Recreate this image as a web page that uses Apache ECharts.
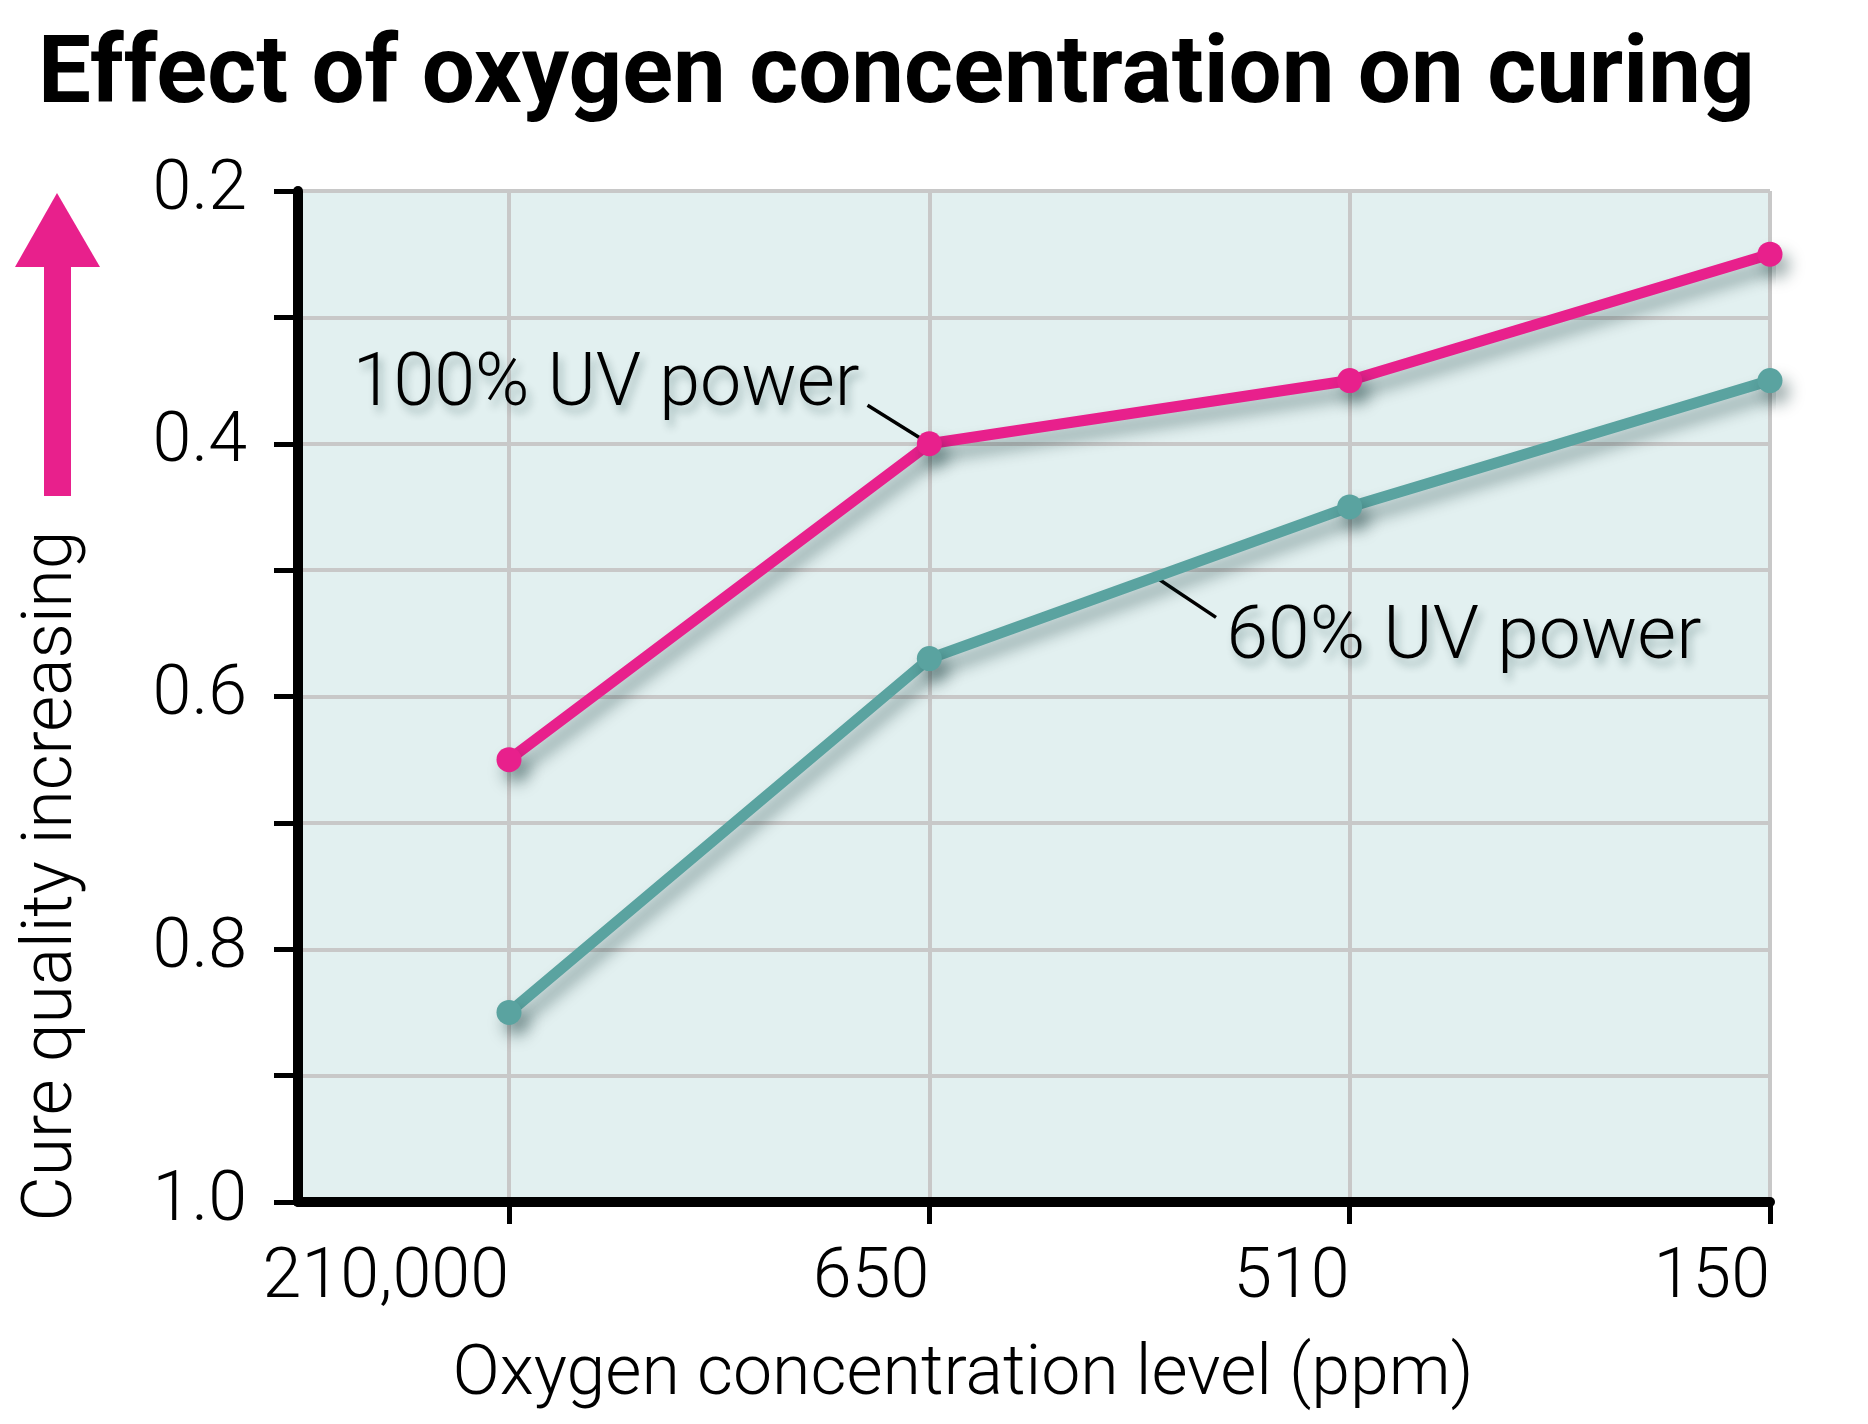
<!DOCTYPE html>
<html><head><meta charset="utf-8">
<script src="https://cdn.jsdelivr.net/npm/echarts@6/dist/echarts.min.js"></script>
<style>html,body{margin:0;padding:0;background:#fff}#c{width:1868px;height:1424px}</style>
</head><body><div id="c"></div>
<script>
// ---- data ----
const categories = ['210,000', '650', '510', '150'];
const uv100 = [0.65, 0.40, 0.35, 0.25];
const uv60 = [0.85, 0.57, 0.45, 0.35];
const yMin = 0.2, yMax = 1.0, yStep = 0.1;
const yLabelTicks = ['0.2', '0.4', '0.6', '0.8', '1.0'];
const titleText = 'Effect of oxygen concentration on curing';
const xName = 'Oxygen concentration level (ppm)';
const yName = 'Cure quality increasing';
const label100 = '100% UV power';
const label60 = '60% UV power';
// leader lines in data space [x, y]
const leader100 = [[0.853, 0.3695], [1, 0.40]];
const leader60 = [[1.539, 0.5057], [1.682, 0.5374]];

const PINK = '#e8208c', TEAL = '#5aa3a0', GRID = '#c8c8c8', BG = '#e2f0f0';
const LIGHT = 'Roboto';
const mctx = document.createElement('canvas').getContext('2d');
function fit(text, weight, family, width) {
  mctx.font = weight + ' 100px ' + family;
  return 100 * width / mctx.measureText(text).width;
}
const titleSize = fit(titleText, 'bold', 'Roboto', 1717);
const xNameSize = fit(xName, '300', LIGHT, 1021);
const yNameSize = fit(yName, '300', LIGHT, 691);
const a100Size = fit(label100, '300', LIGHT, 507);
const a60Size = fit(label60, '300', LIGHT, 475);
const tickSize = 70;

const chart = echarts.init(document.getElementById('c'), null, {renderer: 'canvas'});
const gridTop = 191, gridBottom = 222, gridRight = 98;
const shadow = {shadowColor: 'rgba(0,40,40,0.4)', shadowBlur: 16, shadowOffsetX: 7, shadowOffsetY: 11};

function lineSeries(name, data, color, leader) {
  return {
    type: 'line', name: name, xAxisIndex: 1, yAxisIndex: 1,
    data: data.map((v, i) => [i, v]),
    symbol: 'circle', symbolSize: 25, showSymbol: true,
    lineStyle: Object.assign({color: color, width: 11}, shadow),
    itemStyle: Object.assign({color: color}, shadow),
    z: 5,
    markLine: {
      silent: true, symbol: 'none', animation: false,
      label: {show: false},
      lineStyle: {color: '#000', width: 3.5, type: 'solid'},
      data: [[{coord: leader[0]}, {coord: leader[1]}]]
    }
  };
}

chart.setOption({
  animation: false,
  grid: [
    {left: 298, right: gridRight, top: gridTop, bottom: gridBottom, show: true, backgroundColor: BG, borderWidth: 0},
    {left: 509, right: gridRight, top: gridTop, bottom: gridBottom, show: false}
  ],
  xAxis: [
    {type: 'value', gridIndex: 0, min: 0, max: 1, interval: 1,
     axisLine: {show: true, onZero: false, lineStyle: {color: '#000', width: 10}},
     axisTick: {show: false}, axisLabel: {show: false}, splitLine: {show: false}},
    {type: 'value', gridIndex: 1, min: 0, max: 3, interval: 1,
     axisLine: {show: false, onZero: false},
     axisTick: {show: true, inside: false, length: 22, lineStyle: {color: '#000', width: 5}},
     axisLabel: {show: true, margin: 42, align: 'right', color: '#000',
       fontFamily: LIGHT, fontWeight: 300, fontSize: tickSize,
       formatter: v => categories[Math.round(v)]},
     splitLine: {show: true, lineStyle: {color: GRID, width: 4}}}
  ],
  yAxis: [
    {type: 'value', gridIndex: 0, min: yMin, max: yMax, interval: yStep, inverse: true,
     axisLine: {show: true, onZero: false, lineStyle: {color: '#000', width: 10}},
     axisTick: {show: true, inside: false, length: 24, lineStyle: {color: '#000', width: 5}},
     axisLabel: {show: true, margin: 51, color: '#000', fontFamily: LIGHT, fontWeight: 300, fontSize: tickSize,
       formatter: v => { const s = Number(v).toFixed(1); return yLabelTicks.indexOf(s) >= 0 ? s : ''; }},
     splitLine: {show: true, lineStyle: {color: GRID, width: 4}}},
    {type: 'value', gridIndex: 1, min: yMin, max: yMax, interval: yStep, inverse: true, show: false}
  ],
  series: [
    lineSeries('60% UV power', uv60, TEAL, leader60),
    lineSeries('100% UV power', uv100, PINK, leader100)
  ]
});

const txtShadow = {textShadowColor: 'rgba(0,50,50,0.3)', textShadowBlur: 8, textShadowOffsetX: 4, textShadowOffsetY: 7};
const p100 = chart.convertToPixel({gridIndex: 1}, [-0.372, 0.3545]);
const p60 = chart.convertToPixel({gridIndex: 1}, [1.707, 0.5546]);

chart.setOption({
  graphic: [
    {type: 'text', left: 38, top: 112 - 0.711 * titleSize / 2 - titleSize / 2, z: 10,
     style: {text: titleText, fill: '#000', font: 'bold ' + titleSize + 'px Roboto'}},
    // arrow
    {type: 'polygon', z: 10, shape: {points: [[15, 267], [100, 267], [57, 193]]}, style: {fill: PINK}},
    {type: 'rect', z: 10, shape: {x: 44, y: 266, width: 27, height: 230}, style: {fill: PINK}},
    {type: 'text', x: 54, y: 876, rotation: Math.PI / 2, z: 10,
     style: {text: yName, fill: '#000', font: '300 ' + yNameSize + 'px ' + LIGHT,
       textAlign: 'center', textVerticalAlign: 'middle', align: 'center', verticalAlign: 'middle'}},
    {type: 'text', x: 963, y: 1377, z: 10,
     style: {text: xName, fill: '#000', font: '300 ' + xNameSize + 'px ' + LIGHT,
       textAlign: 'center', textVerticalAlign: 'middle', align: 'center', verticalAlign: 'middle'}},
    {type: 'text', x: p100[0], y: p100[1], z: 10,
     style: Object.assign({text: label100, fill: '#000', font: '300 ' + a100Size + 'px ' + LIGHT,
       textAlign: 'left', textVerticalAlign: 'middle', align: 'left', verticalAlign: 'middle'}, txtShadow)},
    {type: 'text', x: p60[0], y: p60[1], z: 10,
     style: Object.assign({text: label60, fill: '#000', font: '300 ' + a60Size + 'px ' + LIGHT,
       textAlign: 'left', textVerticalAlign: 'middle', align: 'left', verticalAlign: 'middle'}, txtShadow)}
  ]
});
</script></body></html>
